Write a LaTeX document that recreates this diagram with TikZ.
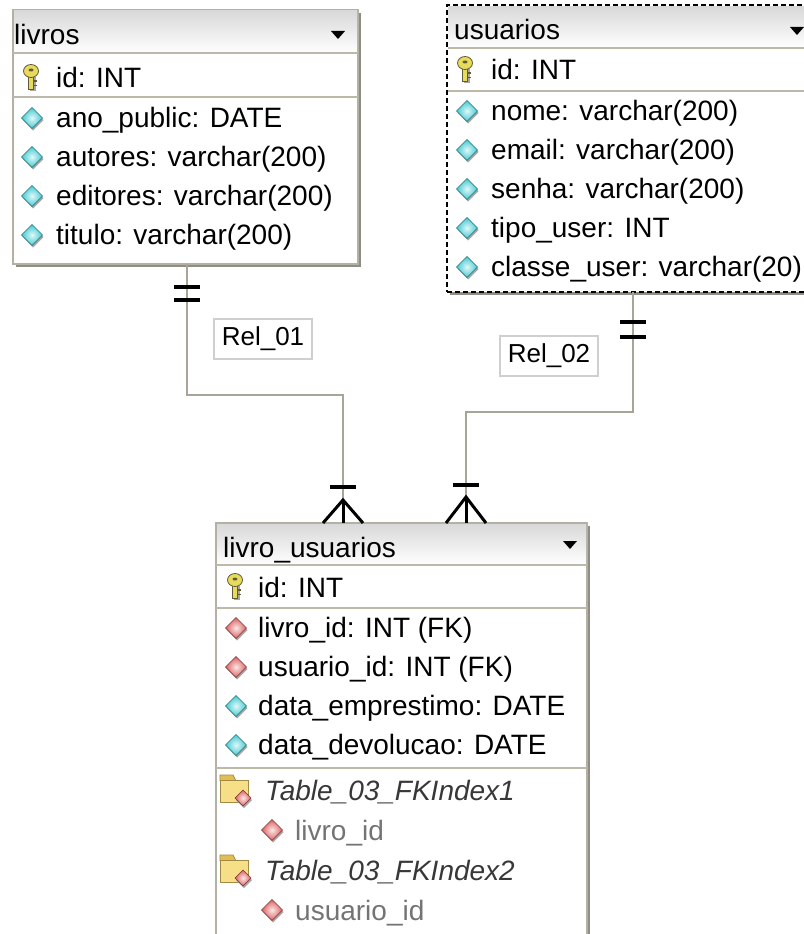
\documentclass[tikz,border=0pt]{standalone}
\usepackage{fontspec}
\setmainfont{Liberation Sans}
\usetikzlibrary{positioning,shadows}

\definecolor{frameclr}{HTML}{B3B1A4}
\definecolor{shadowclr}{HTML}{8F8D84}
\definecolor{sepclr}{HTML}{BDB9A8}
\definecolor{connclr}{HTML}{A8A597}
\definecolor{relclr}{HTML}{CFCFCF}
\definecolor{attrclr}{HTML}{3FCAD2}
\definecolor{fkclr}{HTML}{DE5F5F}
\definecolor{keyfill}{HTML}{E8DA5A}
\definecolor{keyline}{HTML}{5E5A3A}
\definecolor{folderfill}{HTML}{F6DF86}
\definecolor{folderdark}{HTML}{E2BE52}
\definecolor{folderline}{HTML}{A08A44}
\definecolor{idxclr}{HTML}{383838}
\definecolor{subclr}{HTML}{747474}

\newcommand{\rowfont}{\fontsize{28}{34}\selectfont}
\newcommand{\relfont}{\fontsize{26}{30}\selectfont}

\begin{document}
\begin{tikzpicture}[x=1pt, y=-1pt]
   \tikzset{tbl/.style = {rectangle, draw=frameclr, line width=1.5pt, fill=white, inner sep=0pt, outer sep=0pt, anchor=north west, general shadow={fill=shadowclr, shadow xshift=3pt, shadow yshift=-3pt}}, }
   \tikzset{dashtbl/.style = {tbl, draw=black, line width=2pt, dash pattern=on 5pt off 3pt}, }
   \tikzset{hdrfill/.style = {top color=black!15, bottom color=white}, }
   \tikzset{sep/.style = {draw=sepclr, line width=2pt}, }
   \tikzset{fld/.style = {anchor=base west, inner sep=0pt, font=\rowfont}, }
   \tikzset{idx/.style = {fld, font=\rowfont\itshape, text=idxclr}, }
   \tikzset{sub/.style = {fld, text=subclr}, }
   \tikzset{conn/.style = {draw=connclr, line width=2pt}, }
   \tikzset{bar/.style = {draw=black, line width=4pt}, }
   \tikzset{foot/.style = {draw=black, line width=3pt}, }
   \tikzset{rel/.style = {rectangle, draw=relclr, line width=1.5pt, fill=white, minimum width=98pt, minimum height=40pt, inner sep=0pt, font=\relfont}, }
   \tikzset{pics/gem/.style = {code={
      \fill[black!35] (-9,2) -- (1,-8.5) -- (11.5,2) -- (1,12.5) -- cycle;
      \shadedraw[draw=#1!55!black, line width=0.6pt, inner color=#1!15!white, outer color=#1] (-10.5,0) -- (0,-10.5) -- (10.5,0) -- (0,10.5) -- cycle;
   }}, }
   \tikzset{pics/keyicon/.style = {code={
      \fill[black!35] (-1,0) rectangle (4.5,14);
      \filldraw[draw=keyline, fill=keyfill, line width=0.8pt] (-2.5,-2) rectangle (2.5,12.5);
      \filldraw[draw=keyline, fill=keyfill, line width=0.8pt] (0,-6) ellipse (7.5 and 6.5);
      \fill[keyline] (0,-7) ellipse (2.5 and 1.5);
      \draw[keyline, line width=1.2pt] (2.5,4) -- (5.5,4) (2.5,8.5) -- (5.5,8.5);
   }}, }
   \tikzset{pics/idxicon/.style = {code={
      \filldraw[draw=folderline, fill=folderdark, line width=0.8pt] (-15,-8) -- (-15,-14) -- (-2,-14) -- (1,-8) -- cycle;
      \filldraw[draw=folderline, fill=folderfill, line width=0.8pt] (-15,-9) rectangle (13,13);
      \fill[black!35] (1,11) -- (9,3) -- (17,11) -- (9,19) -- cycle;
      \shadedraw[draw=fkclr!55!black, line width=0.6pt, inner color=fkclr!15!white, outer color=fkclr] (0,9) -- (8,1) -- (16,9) -- (8,17) -- cycle;
   }}, }
   \tikzset{pics/dropicon/.style = {code={\fill[black] (-7,-4) -- (7,-4) -- (0,4) -- cycle;}}, }

   \useasboundingbox (0,0) rectangle (803,934);

   % tables
   \node[tbl, minimum width=345pt, minimum height=254pt] (livros) at (13,10) {};
   \node[dashtbl, minimum width=370pt, minimum height=287pt] (usuarios) at (447,5) {};
   \node[tbl, minimum width=371pt, minimum height=430pt] (livrousu) at (216,523) {};

   % headers and separators
   \fill[hdrfill] ([shift={(1,1)}]livros.north west) rectangle ([shift={(-1,43)}]livros.north east);
   \fill[hdrfill] ([shift={(1.5,1.5)}]usuarios.north west) rectangle ([shift={(-1,43)}]usuarios.north east);
   \fill[hdrfill] ([shift={(1,1)}]livrousu.north west) rectangle ([shift={(-1,42)}]livrousu.north east);
   \draw[sep] ([shift={(0,43)}]livros.north west) -- ([shift={(0,43)}]livros.north east);
   \draw[sep] ([shift={(0,87)}]livros.north west) -- ([shift={(0,87)}]livros.north east);
   \draw[sep] ([shift={(1,43)}]usuarios.north west) -- ([shift={(0,43)}]usuarios.north east);
   \draw[sep] ([shift={(1,86)}]usuarios.north west) -- ([shift={(0,86)}]usuarios.north east);
   \draw[sep] ([shift={(0,42)}]livrousu.north west) -- ([shift={(0,42)}]livrousu.north east);
   \draw[sep] ([shift={(0,85)}]livrousu.north west) -- ([shift={(0,85)}]livrousu.north east);
   \draw[sep] ([shift={(0,245)}]livrousu.north west) -- ([shift={(0,245)}]livrousu.north east);

   % livros
   \node[fld] (lv_hdr) at (14,45) {livros};
   \pic at (338,35) {dropicon};
   \pic at (31,77) {keyicon};
   \node[fld] (lv_id) at (56,88) {id: INT};
   \pic at (32,118) {gem=attrclr};
   \node[fld] (lv_ano) at (56,127) {ano\_public: DATE};
   \pic at (32,157) {gem=attrclr};
   \node[fld] (lv_aut) at (56,166) {autores: varchar(200)};
   \pic at (32,196) {gem=attrclr};
   \node[fld] (lv_edi) at (56,205) {editores: varchar(200)};
   \pic at (32,235) {gem=attrclr};
   \node[fld] (lv_tit) at (56,244) {titulo: varchar(200)};

   % usuarios
   \node[fld] (us_hdr) at (454,40) {usuarios};
   \pic at (797,31) {dropicon};
   \pic at (465,69) {keyicon};
   \node[fld] (us_id) at (491,80) {id: INT};
   \pic at (467,111) {gem=attrclr};
   \node[fld] (us_nome) at (491,120) {nome: varchar(200)};
   \pic at (467,150) {gem=attrclr};
   \node[fld] (us_email) at (491,159) {email: varchar(200)};
   \pic at (467,189) {gem=attrclr};
   \node[fld] (us_senha) at (491,198) {senha: varchar(200)};
   \pic at (467,228) {gem=attrclr};
   \node[fld] (us_tipo) at (491,237) {tipo\_user: INT};
   \pic at (467,267) {gem=attrclr};
   \node[fld] (us_classe) at (491,276) {classe\_user: varchar(20)};

   % livro_usuarios
   \node[fld] (lu_hdr) at (223,557) {livro\_usuarios};
   \pic at (570,545) {dropicon};
   \pic at (235,586) {keyicon};
   \node[fld] (lu_id) at (258,597) {id: INT};
   \pic at (236,628) {gem=fkclr};
   \node[fld] (lu_livro) at (258,637) {livro\_id: INT (FK)};
   \pic at (236,667) {gem=fkclr};
   \node[fld] (lu_usu) at (258,676) {usuario\_id: INT (FK)};
   \pic at (236,706) {gem=attrclr};
   \node[fld] (lu_emp) at (258,715) {data\_emprestimo: DATE};
   \pic at (236,745) {gem=attrclr};
   \node[fld] (lu_dev) at (258,754) {data\_devolucao: DATE};
   \pic at (235,789) {idxicon};
   \node[idx] (lu_idx1) at (265,800) {Table\_03\_FKIndex1};
   \pic at (272,830) {gem=fkclr};
   \node[sub] (lu_idx1c) at (295,840) {livro\_id};
   \pic at (235,869) {idxicon};
   \node[idx] (lu_idx2) at (265,880) {Table\_03\_FKIndex2};
   \pic at (272,910) {gem=fkclr};
   \node[sub] (lu_idx2c) at (295,920) {usuario\_id};

   % Rel_01: livros -> livro_usuarios
   \coordinate (r1top) at ([shift={(174,0)}]livros.south west);
   \coordinate (r1bot) at ([shift={(127,0)}]livrousu.north west);
   \draw[conn] (r1top) -- ++(0,131) -| (r1bot);
   \draw[bar] ([shift={(-13,23)}]r1top) -- ++(26,0);
   \draw[bar] ([shift={(-13,36)}]r1top) -- ++(26,0);
   \draw[bar] ([shift={(-13,-36)}]r1bot) -- ++(26,0);
   \draw[foot] ([shift={(-20,0)}]r1bot) -- ++(20,-23) -- ++(20,23);
   \draw[foot] (r1bot) -- ++(0,-23);
   \node[rel] (rel1) at (263,339) {Rel\_01};

   % Rel_02: usuarios -> livro_usuarios
   \coordinate (r2top) at ([shift={(186,0)}]usuarios.south west);
   \coordinate (r2bot) at ([shift={(250,0)}]livrousu.north west);
   \draw[conn] (r2top) -- ++(0,120) -| (r2bot);
   \draw[bar] ([shift={(-13,30)}]r2top) -- ++(26,0);
   \draw[bar] ([shift={(-13,45)}]r2top) -- ++(26,0);
   \draw[bar] ([shift={(-13,-38)}]r2bot) -- ++(26,0);
   \draw[foot] ([shift={(-20,0)}]r2bot) -- ++(20,-26) -- ++(20,26);
   \draw[foot] (r2bot) -- ++(0,-26);
   \node[rel] (rel2) at (549,356) {Rel\_02};

\end{tikzpicture}
\end{document}
